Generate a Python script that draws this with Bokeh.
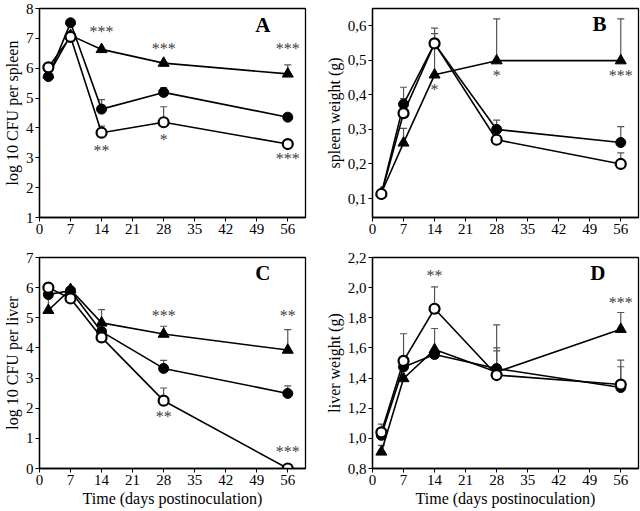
from bokeh.plotting import figure
from bokeh.layouts import column, row
from bokeh.models import (ColumnDataSource, Whisker, TeeHead, Range1d, FixedTicker,
                          Label, CustomJSTickFormatter)
from bokeh.core.properties import value
from bokeh.embed import file_html
from bokeh.resources import INLINE

FONT = "Liberation Serif"

days = [2, 7, 14, 28, 56]
x_ticks = [0, 7, 14, 21, 28, 35, 42, 49, 56]

# Panel A: log 10 CFU per spleen
a_filled = [5.72, 7.52, 4.63, 5.19, 4.36]
a_filled_err = [0.0, 0.0, 0.32, 0.16, 0.12]
a_open = [6.03, 7.05, 3.84, 4.19, 3.46]
a_open_err = [0.0, 0.0, 0.22, 0.52, 0.0]
a_tri = [5.78, 7.10, 6.63, 6.17, 5.81]
a_tri_err = [0.0, 0.0, 0.0, 0.05, 0.30]
a_stars = ["***", "***", "***", "**", "*", "***"]
a_star_x = [14, 28, 56, 14, 28, 56]
a_star_y = [7.24, 6.66, 6.66, 3.25, 3.62, 2.96]
a_yticks = [1, 2, 3, 4, 5, 6, 7, 8]

# Panel B: spleen weight (g)
b_filled = [0.113, 0.373, 0.548, 0.300, 0.262]
b_filled_err = [0.0, 0.049, 0.045, 0.027, 0.046]
b_open = [0.113, 0.347, 0.549, 0.270, 0.200]
b_open_err = [0.0, 0.042, 0.0, 0.0, 0.032]
b_tri = [0.116, 0.261, 0.458, 0.499, 0.499]
b_tri_err = [0.0, 0.042, 0.119, 0.121, 0.121]
b_stars = ["*", "*", "***"]
b_star_x = [14, 28, 56]
b_star_y = [0.415, 0.455, 0.455]
b_yticks = [0.1, 0.2, 0.3, 0.4, 0.5, 0.6]

# Panel C: log 10 CFU per liver
c_filled = [5.77, 5.90, 4.54, 3.32, 2.49]
c_filled_err = [0.0, 0.0, 0.0, 0.27, 0.25]
c_open = [6.00, 5.64, 4.35, 2.25, 0.0]
c_open_err = [0.0, 0.0, 0.0, 0.42, 0.0]
c_tri = [5.25, 5.94, 4.83, 4.46, 3.93]
c_tri_err = [0.40, 0.0, 0.44, 0.26, 0.68]
c_stars = ["***", "**", "**", "***"]
c_star_x = [28, 56, 28, 56]
c_star_y = [5.09, 5.09, 1.71, 0.55]
c_yticks = [0, 1, 2, 3, 4, 5, 6, 7]

# Panel D: liver weight (g)
d_filled = [1.02, 1.474, 1.556, 1.463, 1.337]
d_filled_err = [0.0, 0.0, 0.0, 0.29, 0.138]
d_open = [1.04, 1.514, 1.86, 1.42, 1.357]
d_open_err = [0.054, 0.18, 0.145, 0.18, 0.162]
d_tri = [0.91, 1.397, 1.589, 1.44, 1.724]
d_tri_err = [0.044, 0.0, 0.14, 0.14, 0.111]
d_stars = ["**", "***"]
d_star_x = [14, 56]
d_star_y = [2.083, 1.90]
d_yticks = [0.8, 1.0, 1.2, 1.4, 1.6, 1.8, 2.0, 2.2]


def panel(width, height, xmax, yr, yticks, ylabel, xlabel, borders, comma):
    p = figure(width=width, height=height, x_range=Range1d(0, xmax),
               y_range=Range1d(*yr), output_backend="svg", toolbar_location=None,
               min_border_left=borders[0], min_border_right=borders[1],
               min_border_top=borders[2], min_border_bottom=borders[3])
    p.xgrid.visible = False
    p.ygrid.visible = False
    p.outline_line_color = "black"
    p.outline_line_width = 1.3
    p.background_fill_color = "white"
    p.border_fill_color = "white"
    for ax in (p.xaxis[0], p.yaxis[0]):
        ax.major_tick_in = 0
        ax.major_tick_out = 4
        ax.minor_tick_line_color = None
        ax.axis_line_color = "black"
        ax.axis_line_width = 1.3
        ax.major_tick_line_color = "black"
        ax.major_label_text_font = FONT
        ax.major_label_text_font_size = "15px"
        ax.major_label_text_color = "black"
        ax.axis_label_text_font = FONT
        ax.axis_label_text_font_size = "16px"
        ax.axis_label_text_font_style = "normal"
        ax.axis_label_text_color = "black"
        ax.major_label_standoff = 2
        ax.axis_label_standoff = 2
    p.xaxis.ticker = FixedTicker(ticks=x_ticks)
    p.yaxis.ticker = FixedTicker(ticks=yticks)
    if comma:
        p.yaxis.formatter = CustomJSTickFormatter(
            code="return tick.toFixed(1).replace('.', ',');")
    p.yaxis.axis_label = ylabel
    if xlabel:
        p.xaxis.axis_label = xlabel
    return p


def add_series(p, ys, errs):
    # error bars (upper only)
    xs_e = [x for x, e in zip(days, errs) if e > 0]
    lo = [y for y, e in zip(ys, errs) if e > 0]
    hi = [y + e for y, e in zip(ys, errs) if e > 0]
    if xs_e:
        src = ColumnDataSource(dict(x=xs_e, lower=lo, upper=hi))
        w = Whisker(source=src, base="x", lower="lower", upper="upper",
                    line_color="#555555", line_width=1.2,
                    upper_head=TeeHead(size=7, line_color="#555555", line_width=1.2),
                    lower_head=None, level="underlay")
        p.add_layout(w)
    p.line(days, ys, line_color="black", line_width=1.6)


def add_markers(p, ys, kind):
    if kind == "filled":
        p.scatter(days, ys, marker="circle", size=10, fill_color="black", line_color="black")
    elif kind == "open":
        p.scatter(days, ys, marker="circle", size=10, fill_color="white",
                  line_color="black", line_width=2.2)
    else:
        p.scatter(days, ys, marker="triangle", size=11, fill_color="black", line_color="black")


def build(p, filled, ferr, opn, oerr, tri, terr, stars, sx, sy, letter, lx, ly):
    for ys, es in ((tri, terr), (filled, ferr), (opn, oerr)):
        add_series(p, ys, es)
    for ys, k in ((tri, "tri"), (filled, "filled"), (opn, "open")):
        add_markers(p, ys, k)
    p.text(x=sx, y=sy, text=stars, text_font=value(FONT), text_font_size="16px",
           text_align="center", text_baseline="middle", text_color="#404040")
    p.add_layout(Label(x=lx, y=ly, text=letter, text_font=FONT, text_font_style="bold",
                       text_font_size="21px", text_align="center",
                       text_baseline="middle", text_color="black"))


TIME = "Time (days postinoculation)"
pA = panel(322, 249, 60, (1, 8), a_yticks, "log 10 CFU per spleen", None, (35, 17, 8, 32), False)
pB = panel(318, 249, 60, (0.045, 0.65), b_yticks, "spleen weight (g)", None, (46, 2, 8, 32), True)
pC = panel(322, 262, 60, (0, 7), c_yticks, "log 10 CFU per liver", TIME, (35, 17, 8, 43), False)
pD = panel(318, 262, 60, (0.8, 2.2), d_yticks, "liver weight (g)", TIME, (46, 2, 8, 43), True)

build(pA, a_filled, a_filled_err, a_open, a_open_err, a_tri, a_tri_err,
      a_stars, a_star_x, a_star_y, "A", 50.4, 7.45)
build(pB, b_filled, b_filled_err, b_open, b_open_err, b_tri, b_tri_err,
      b_stars, b_star_x, b_star_y, "B", 51.2, 0.606)
build(pC, c_filled, c_filled_err, c_open, c_open_err, c_tri, c_tri_err,
      c_stars, c_star_x, c_star_y, "C", 50.4, 6.49)
build(pD, d_filled, d_filled_err, d_open, d_open_err, d_tri, d_tri_err,
      d_stars, d_star_x, d_star_y, "D", 50.8, 2.096)

layout = column(row(pA, pB), row(pC, pD))
open("out.html", "w").write(file_html(layout, INLINE))
